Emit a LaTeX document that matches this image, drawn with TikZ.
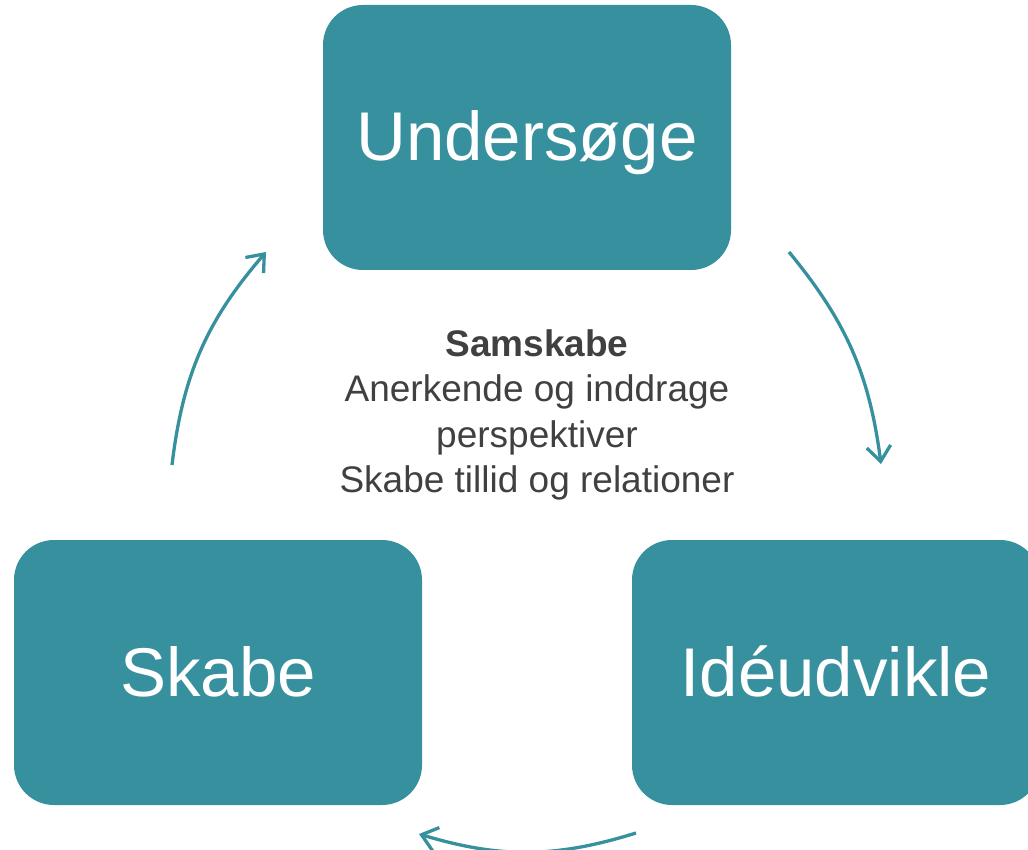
\documentclass[tikz,border=0pt]{standalone}
\usepackage{fontspec}
\setmainfont{Liberation Sans}
\usetikzlibrary{arrows.meta}
\definecolor{teal1}{HTML}{36909E}
\definecolor{txtgray}{HTML}{404040}
\tikzset{
  stagebox/.style={fill=teal1, draw=none, rounded corners=40pt, minimum width=408pt, minimum height=265pt, inner sep=0pt, text=white, font=\fontsize{69}{80}\selectfont, text height=50pt, text depth=3pt},
  cyclearrow/.style={draw=teal1, line width=3.3pt, -{Straight Barb[length=15pt,width=24pt,line width=3.3pt]}}
}
\begin{document}
\begin{tikzpicture}[x=1pt,y=-1pt]
\useasboundingbox (0,0) rectangle (1028,850);
\begin{scope}
\clip (0,0) rectangle (1028,850);
\node[stagebox] (und) at (527,137.5) {Undersøge};
\node[stagebox] (ide) at (836,672.5) {Idéudvikle};
\node[stagebox] (ska) at (218,672.5) {Skabe};
\end{scope}
\node[text=txtgray, align=center, font=\fontsize{37}{45.5}\selectfont] (mid) at (537,415) {\textbf{Samskabe}\\Anerkende og inddrage\\perspektiver\\Skabe tillid og relationer};
\coordinate (a1s) at (789,252);
\coordinate (a1e) at (881,464);
\coordinate (a2s) at (636,833);
\coordinate (a2e) at (419,834);
\coordinate (a3s) at (172,465);
\coordinate (a3e) at (266,252);
\draw[cyclearrow] (a1s) to[bend left=16] (a1e);
\draw[cyclearrow] (a2s) to[bend left=17] (a2e);
\draw[cyclearrow] (a3s) to[bend left=17] (a3e);
\end{tikzpicture}
\end{document}
